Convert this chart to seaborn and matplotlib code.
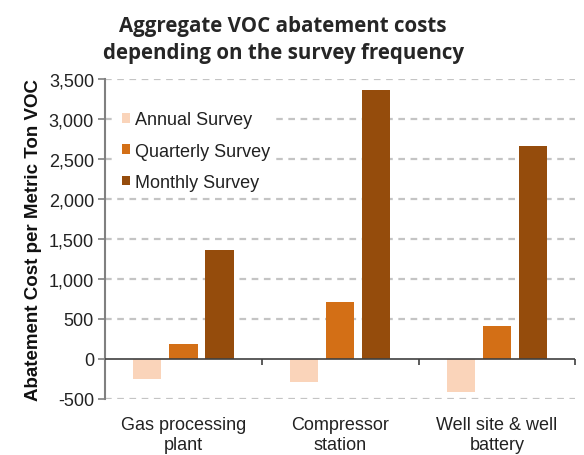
import matplotlib
matplotlib.use("Agg")
import matplotlib.pyplot as plt
import seaborn as sns
import pandas as pd
from matplotlib.ticker import FuncFormatter, MultipleLocator

categories = ["Gas processing\nplant", "Compressor\nstation", "Well site & well\nbattery"]
surveys = ["Annual Survey", "Quarterly Survey", "Monthly Survey"]
annual = [-250, -290, -410]
quarterly = [180, 710, 410]
monthly = [1360, 3360, 2660]
colors = ["#FAD4BA", "#D36F16", "#954C0C"]

rows = []
for s, vals in zip(surveys, [annual, quarterly, monthly]):
    for c, v in zip(categories, vals):
        rows.append({"Site": c, "Survey": s, "Cost": v})
df = pd.DataFrame(rows)

sns.set_style("white")
plt.rcParams["font.family"] = ["Liberation Sans", "DejaVu Sans"]

fig = plt.figure(figsize=(5.84, 4.56), dpi=100)
ax = fig.add_axes([0.18, 0.123, 0.805, 0.702])

sns.barplot(data=df, x="Site", y="Cost", hue="Survey", hue_order=surveys,
            order=categories, palette=colors, width=0.69, gap=0.22,
            saturation=1, ax=ax, edgecolor="none", linewidth=0)

ax.set_ylim(-500, 3500)
ax.set_xlim(-0.5, 2.5)
ax.yaxis.set_major_locator(MultipleLocator(500))
ax.yaxis.set_major_formatter(FuncFormatter(lambda v, p: f"{int(v):,}"))
for y in range(-500, 3501, 500):
    if y != 0:
        ax.axhline(y, color="#c4c4c4", lw=1.6, ls=(0, (3, 2.5)), zorder=0)
ax.axhline(0, color="#404040", lw=1.2, zorder=3)

for s in ["top", "right", "bottom"]:
    ax.spines[s].set_visible(False)
ax.spines["left"].set_color("#808080")
ax.spines["left"].set_linewidth(1.5)
ax.tick_params(axis="y", direction="out", length=5, width=1.2, color="#808080",
               labelsize=13, pad=3, left=True, labelcolor="#222222")
ax.tick_params(axis="x", length=0, labelsize=13, pad=12, labelcolor="#222222")
for lab in ax.get_xticklabels():
    lab.set_linespacing(1.3)

sec = ax.secondary_xaxis(0.125)
sec.set_xticks([-0.5, 0.5, 1.5, 2.5])
sec.set_xticklabels(["", "", "", ""])
sec.tick_params(axis="x", direction="out", length=4, width=1.2, color="#404040")
sec.spines["bottom"].set_visible(False)

ax.set_xlabel("")
ax.set_ylabel("Abatement Cost per Metric Ton VOC", fontsize=13.5, fontweight="bold",
              labelpad=5, color="#111111")

leg = ax.legend(loc="upper left", bbox_to_anchor=(0.026, 0.913), borderaxespad=0,
                frameon=True, facecolor="white", edgecolor="white", framealpha=1,
                fontsize=13, handlelength=0.45, handleheight=0.45, handletextpad=0.3,
                labelspacing=0.8, borderpad=0.25)
for t in leg.get_texts():
    t.set_color("#222222")
leg.set_zorder(5)

fig.text(0.485, 0.965, "Aggregate VOC abatement costs\ndepending on the survey frequency",
         ha="center", va="top", fontsize=14.8, fontweight="bold",
         family=["Open Sans", "DejaVu Sans"], linespacing=1.35)

fig.savefig("out.png", dpi=100)
